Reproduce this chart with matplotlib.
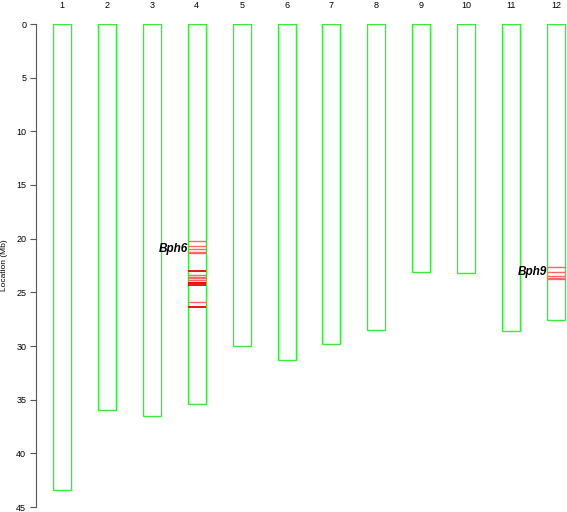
import matplotlib
matplotlib.use("Agg")
import matplotlib.pyplot as plt
from matplotlib.patches import Rectangle

plt.rcParams['font.family'] = ['Liberation Sans', 'DejaVu Sans']

# chromosome lengths (Mb)
chroms = list(range(1, 13))
lengths = [43.4, 36.0, 36.5, 35.4, 30.0, 31.3, 29.8, 28.5, 23.1, 23.2, 28.6, 27.6]

# marker positions (Mb) on chr4 and chr12, with strength (1 = dark, 0 = light)
chr4_pos = [20.2, 20.7, 21.0, 21.2, 21.35, 23.0, 23.4, 23.55, 23.7, 23.85, 24.0, 24.15, 24.3, 25.9, 26.4]
chr4_str = [0, 0, 0, 0, 0, 1, 0, 0, 0, 0, 0, 1, 1, 0, 1]
chr12_pos = [22.6, 23.1, 23.45, 23.7, 23.8]
chr12_str = [0, 0, 0, 0, 0]

genes = ["Bph6", "Bph9"]
gene_chrom = [4, 12]
gene_pos = [21.0, 23.1]

fig = plt.figure(figsize=(5.67, 5.12), dpi=100)
ax = fig.add_axes([36 / 567, 5 / 512, 531 / 567, 483 / 512])

w = 0.4
for c, L in zip(chroms, lengths):
    ax.add_patch(Rectangle((c - w / 2, 0), w, L, fill=False, edgecolor="#33ee33", lw=1))
    ax.text(c, 1.0 + 18 / 483, str(c), transform=ax.get_xaxis_transform(),
            ha="center", va="center", fontsize=6.5)

for c, pos, st in [(4, chr4_pos, chr4_str), (12, chr12_pos, chr12_str)]:
    for p, s in zip(pos, st):
        col = "#ee0000" if s else "#ff6666"
        ax.hlines(p, c - w / 2, c + w / 2, colors=col, lw=1.3 if s else 1.0)

for g, c, p in zip(genes, gene_chrom, gene_pos):
    ax.text(c - w / 2 + 0.01, p, g, ha="right", va="center", fontsize=8.5,
            fontweight="bold", fontstyle="italic")

ax.set_xlim(0.42, 12.245)
ax.set_ylim(45, 0)
ax.set_yticks(range(0, 46, 5))
ax.tick_params(axis="y", labelsize=6.5, length=4, color="#555555", pad=3)
ax.set_xticks([])
for s in ["top", "right", "bottom"]:
    ax.spines[s].set_visible(False)
ax.spines["left"].set_color("#555555")
ax.set_ylabel("Location (Mb)", fontsize=6, labelpad=6)

fig.savefig("out.png", dpi=100)
